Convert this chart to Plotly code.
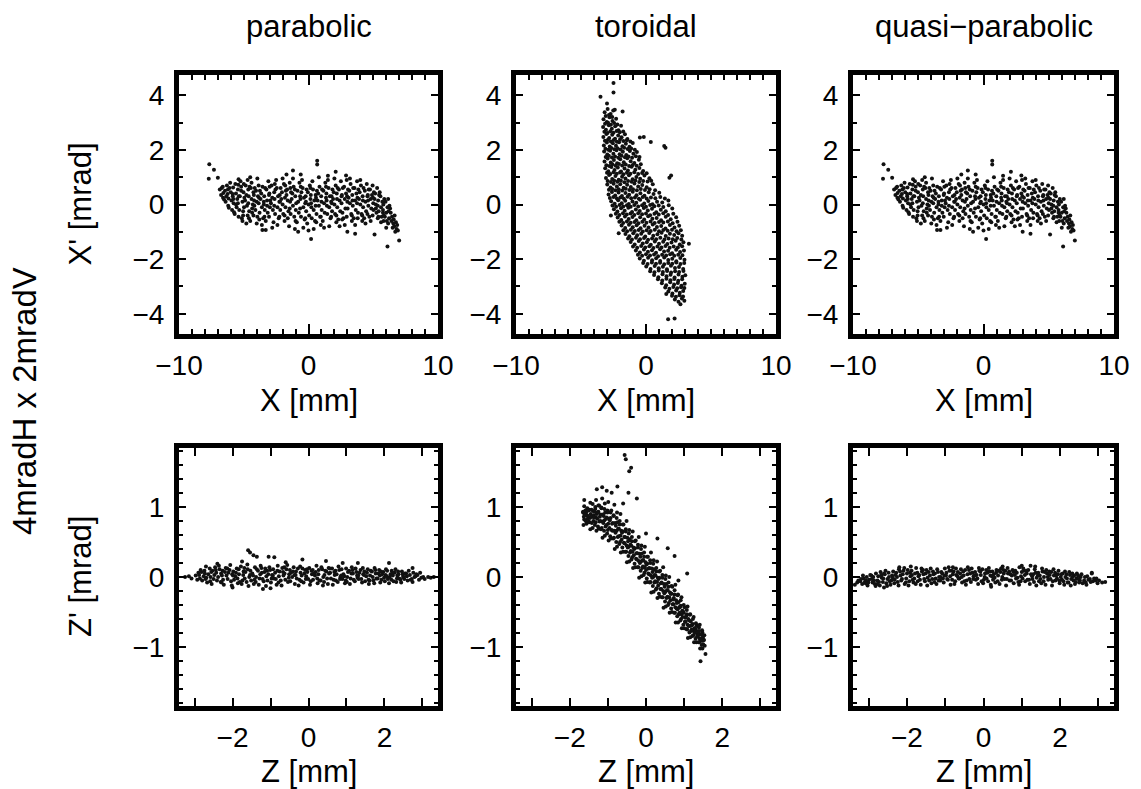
import plotly.graph_objects as go

# ---------------- data ----------------
panel_titles = ["parabolic", "toroidal", "quasi\u2212parabolic"]
top_x_title = "X [mm]"
top_y_title = "X' [mrad]"
bot_x_title = "Z [mm]"
bot_y_title = "Z' [mrad]"
side_label = "4mradH x 2mradV"

top_x_ticks = [-10, 0, 10]
top_y_ticks = [-4, -2, 0, 2, 4]
bot_x_ticks = [-2, 0, 2]
bot_y_ticks = [-1, 0, 1]

# horizontal phase space, parabolic: (X [mm], X' [mrad])
parabolic_xx = [
    (-7.66, 1.47), (-7.3, 1.27), (-7.7, 0.94), (-7.0, 0.98), (0.67, 1.6), (0.67, 1.46),
    (-1.2, 1.24), (2.1, 1.2), (2.9, 1.06), (6.1, -1.54), (7.0, -1.32), (6.9, -0.95),
    (0.2, -1.26), (-3.56, -0.93), (-3.3, -0.93), (3.0, -1.0), (3.6, -1.07), (5.1, -1.1),
    (-1.7, 1.1), (-4.5, 1.0), (-5.4, 0.92), (1.5, 1.05), (-0.6, 1.1),
    (-6.85, 0.55), (-6.75, 0.35), (-6.7, 0.6), (-6.6, 0.25),
    (-6.45, 0.5), (-6.4, 0.1), (-6.3, 0.7), (-6.35, 0.3), (-6.2, -0.05),
    (-6.05, 0.8), (-6.0, 0.45), (-5.95, 0.15), (-5.9, -0.2), (-6.1, 0.6), (-5.85, 0.3),
    (-5.65, 0.75), (-5.6, 0.4), (-5.55, -0.1), (-5.5, 0.2), (-5.7, -0.35), (-5.45, 0.55), (-5.6, 0.0),
    (-5.25, 0.85), (-5.2, 0.5), (-5.15, -0.5), (-5.1, 0.1), (-5.3, 0.3), (-5.05, -0.25), (-5.2, 0.65), (-5.1, -0.6),
    (-4.85, 0.7), (-4.8, 0.35), (-4.75, -0.05), (-4.7, -0.4), (-4.9, 0.15), (-4.65, 0.55), (-4.8, -0.7), (-4.7, 0.9),
    (-4.45, 0.6), (-4.4, 0.2), (-4.35, -0.3), (-4.3, 0.0), (-4.5, -0.6), (-4.25, 0.45), (-4.4, 0.8), (-4.35, -0.15),
    (-4.05, 0.5), (-4.0, 0.1), (-3.95, -0.45), (-3.9, 0.3), (-4.1, -0.2), (-3.85, 0.7), (-4.0, -0.7), (-3.95, 0.95),
    (-3.65, 0.4), (-3.6, -0.1), (-3.55, 0.65), (-3.5, -0.5), (-3.7, 0.2), (-3.45, 0.0), (-3.6, -0.75),
    (-3.25, 0.55), (-3.2, 0.15), (-3.15, -0.3), (-3.1, 0.85), (-3.3, -0.6), (-3.05, 0.35), (-3.2, -0.05),
    (-2.85, 0.7), (-2.8, 0.25), (-2.75, -0.2), (-2.7, -0.65), (-2.9, 0.05), (-2.65, 0.45), (-2.8, -0.85),
    (-2.45, 0.6), (-2.4, -0.1), (-2.35, 0.3), (-2.3, -0.5), (-2.5, 0.9), (-2.25, 0.1), (-2.4, -0.75),
    (-2.05, 0.45), (-2.0, 0.0), (-1.95, -0.35), (-1.9, 0.75), (-2.1, 0.2), (-1.85, -0.6), (-2.0, 0.95),
    (-1.65, 0.55), (-1.6, 0.15), (-1.55, -0.25), (-1.5, -0.8), (-1.7, 0.35), (-1.45, 0.8), (-1.6, -0.5),
    (-1.25, 0.4), (-1.2, -0.05), (-1.15, 0.65), (-1.1, -0.45), (-1.3, 0.2), (-1.05, -0.9), (-1.2, 0.95),
    (-0.85, 0.5), (-0.8, 0.1), (-0.75, -0.3), (-0.7, 0.8), (-0.9, -0.65), (-0.65, 0.3), (-0.8, -1.0),
    (-0.45, 0.6), (-0.4, -0.1), (-0.35, 0.25), (-0.3, -0.55), (-0.5, 0.9), (-0.25, 0.05), (-0.4, -0.85),
    (-0.05, 0.45), (0.0, 0.0), (0.05, -0.4), (0.1, 0.7), (-0.1, -0.7), (0.15, 0.2), (0.0, -0.95),
    (0.35, 0.55), (0.4, -0.2), (0.45, 0.15), (0.5, -0.6), (0.3, 0.85), (0.55, 0.35), (0.4, -0.9),
    (0.75, 0.4), (0.8, -0.05), (0.85, 0.65), (0.9, -0.45), (0.7, 0.15), (0.95, -0.75), (0.8, 1.0),
    (1.15, 0.5), (1.2, 0.05), (1.25, -0.3), (1.3, 0.8), (1.1, -0.6), (1.35, 0.25), (1.2, -0.85),
    (1.55, 0.6), (1.6, -0.1), (1.65, 0.3), (1.7, -0.5), (1.5, 0.9), (1.75, 0.1), (1.6, -0.8),
    (1.95, 0.45), (2.0, 0.0), (2.05, -0.35), (2.1, 0.7), (1.9, 0.2), (2.15, -0.65), (2.0, 0.95),
    (2.35, 0.55), (2.4, 0.15), (2.45, -0.25), (2.5, 0.85), (2.3, -0.55), (2.55, 0.3), (2.4, -0.8),
    (2.75, 0.65), (2.8, 0.2), (2.85, -0.15), (2.9, 0.4), (2.7, -0.5), (2.95, 0.9), (2.8, -0.75),
    (3.15, 0.5), (3.2, 0.05), (3.25, 0.75), (3.3, -0.35), (3.1, 0.25), (3.35, -0.6), (3.2, 0.95),
    (3.55, 0.6), (3.6, 0.15), (3.65, -0.2), (3.7, 0.4), (3.5, -0.5), (3.75, 0.85), (3.6, -0.75),
    (3.95, 0.45), (4.0, 0.0), (4.05, 0.7), (4.1, -0.35), (3.9, 0.2), (4.15, -0.6), (4.0, 0.9),
    (4.35, 0.5), (4.4, 0.1), (4.45, -0.25), (4.5, 0.75), (4.3, -0.5), (4.55, 0.3), (4.4, -0.7),
    (4.75, 0.55), (4.8, 0.2), (4.85, -0.15), (4.9, 0.35), (4.7, -0.45), (4.95, 0.7), (4.8, -0.6),
    (5.15, 0.4), (5.2, 0.0), (5.25, -0.3), (5.3, 0.6), (5.1, 0.2), (5.35, -0.5), (5.2, -0.15),
    (5.55, 0.3), (5.6, -0.1), (5.65, -0.45), (5.7, 0.1), (5.5, 0.45), (5.75, -0.3), (5.6, -0.65),
    (5.95, 0.1), (6.0, -0.3), (6.05, -0.6), (6.1, -0.1), (5.9, -0.45), (6.15, 0.2), (6.0, -0.85),
    (6.35, -0.3), (6.4, -0.6), (6.45, -0.45), (6.5, -0.85), (6.3, -0.15), (6.55, -0.7),
    (6.75, -0.65), (6.8, -0.9), (6.85, -0.75), (6.7, -1.0),
    (-6.58, 0.42), (-6.52, 0.18), (-6.62, 0.65),
    (-6.22, 0.55), (-6.18, 0.22), (-6.15, -0.12), (-6.25, 0.38),
    (-5.82, 0.62), (-5.78, 0.05), (-5.75, -0.28), (-5.85, 0.38), (-5.8, 0.2),
    (-5.42, 0.72), (-5.38, 0.3), (-5.35, -0.2), (-5.45, 0.05), (-5.4, -0.45),
    (-5.02, 0.45), (-4.98, -0.1), (-4.95, 0.25), (-5.05, -0.4), (-5.0, 0.75),
    (-4.62, 0.3), (-4.58, -0.25), (-4.55, 0.65), (-4.65, 0.05), (-4.6, -0.5),
    (-4.22, 0.35), (-4.18, -0.05), (-4.15, 0.6), (-4.25, -0.4), (-4.2, 0.15),
    (-3.82, 0.25), (-3.78, -0.3), (-3.75, 0.5), (-3.85, 0.05), (-3.8, -0.55),
    (-3.42, 0.3), (-3.38, -0.2), (-3.35, 0.6), (-3.45, 0.1), (-3.4, -0.45),
    (-3.02, 0.4), (-2.98, -0.1), (-2.95, 0.15), (-3.05, -0.45), (-3.0, 0.65),
    (-2.62, 0.2), (-2.58, -0.35), (-2.55, 0.55), (-2.65, -0.05), (-2.6, 0.75),
    (-2.22, 0.35), (-2.18, -0.2), (-2.15, 0.6), (-2.25, -0.45), (-2.2, 0.1),
    (-1.82, 0.25), (-1.78, -0.1), (-1.75, 0.5), (-1.85, -0.4), (-1.8, 0.7),
    (-1.42, 0.1), (-1.38, -0.35), (-1.35, 0.45), (-1.45, -0.15), (-1.4, 0.6),
    (-1.02, 0.3), (-0.98, -0.2), (-0.95, 0.05), (-1.05, 0.55), (-1.0, -0.6),
    (-0.62, 0.2), (-0.58, -0.45), (-0.55, 0.45), (-0.65, -0.15), (-0.6, 0.65),
    (-0.22, 0.3), (-0.18, -0.25), (-0.15, 0.55), (-0.25, -0.5), (-0.2, 0.1),
    (0.18, 0.35), (0.22, -0.1), (0.25, -0.5), (0.15, 0.6), (0.2, 0.05),
    (0.58, 0.25), (0.62, -0.35), (0.65, 0.5), (0.55, -0.05), (0.6, -0.65),
    (0.98, 0.3), (1.02, -0.2), (1.05, 0.55), (0.95, -0.45), (1.0, 0.1),
    (1.38, 0.4), (1.42, -0.05), (1.45, -0.35), (1.35, 0.65), (1.4, 0.15),
    (1.78, 0.3), (1.82, -0.25), (1.85, 0.55), (1.75, -0.45), (1.8, 0.05),
    (2.18, 0.4), (2.22, -0.1), (2.25, 0.6), (2.15, -0.4), (2.2, 0.2),
    (2.58, 0.35), (2.62, -0.3), (2.65, 0.6), (2.55, 0.05), (2.6, -0.55),
    (2.98, 0.3), (3.02, -0.15), (3.05, 0.55), (2.95, -0.45), (3.0, 0.1),
    (3.38, 0.35), (3.42, -0.05), (3.45, 0.6), (3.35, -0.4), (3.4, 0.15),
    (3.78, 0.25), (3.82, -0.3), (3.85, 0.55), (3.75, 0.05), (3.8, -0.5),
    (4.18, 0.3), (4.22, -0.1), (4.25, 0.6), (4.15, -0.4), (4.2, 0.15),
    (4.58, 0.35), (4.62, -0.05), (4.65, 0.55), (4.55, -0.35), (4.6, 0.15),
    (4.98, 0.25), (5.02, -0.2), (5.05, 0.45), (4.95, -0.4), (5.0, 0.05),
    (5.38, 0.15), (5.42, -0.25), (5.45, 0.35), (5.35, -0.05), (5.4, -0.45),
    (5.78, 0.0), (5.82, -0.4), (5.85, 0.2), (5.75, -0.2), (5.8, -0.6),
    (6.18, -0.25), (6.22, -0.5), (6.25, -0.05), (6.15, -0.7),
    (6.58, -0.55), (6.62, -0.8), (6.65, -0.4),
]

# horizontal phase space, toroidal: (X [mm], X' [mrad])
toroidal_xx = [
    (-3.5, 3.94), (-2.5, 4.45), (-2.5, 4.1), (-3.0, 3.7), (-1.8, 3.4), (-2.4, 3.47),
    (1.7, -4.2), (2.2, -4.17), (1.56, -3.28), (3.3, -1.44), (1.5, 2.08), (1.4, 2.14),
    (-0.17, 2.47), (-0.47, 2.45), (0.37, 2.29), (1.8, 0.98), (1.93, 1.06), (-2.7, -0.4),
    (-2.1, -1.05), (2.65, -3.65),
    (-3.18, 3.38), (-2.95, 3.5), (-2.72, 3.31), (-2.52, 3.44),
    (-3.27, 3.12), (-3.02, 3.02), (-2.81, 3.19), (-2.58, 3.06), (-2.3, 3.14),
    (-3.3, 2.84), (-3.08, 2.74), (-2.86, 2.9), (-2.63, 2.77), (-2.37, 2.86), (-2.12, 2.72), (-1.92, 2.88),
    (-3.28, 2.47), (-3.05, 2.58), (-2.83, 2.43), (-2.6, 2.55), (-2.38, 2.41), (-2.14, 2.53), (-1.88, 2.46),
    (-1.62, 2.57), (-1.43, 2.4),
    (-3.24, 2.16), (-3.01, 2.27), (-2.79, 2.12), (-2.55, 2.24), (-2.31, 2.15), (-2.07, 2.28), (-1.81, 2.13),
    (-1.55, 2.22), (-1.27, 2.11), (-1.02, 2.25),
    (-3.22, 1.94), (-2.98, 1.83), (-2.76, 1.97), (-2.51, 1.86), (-2.27, 1.99), (-2.03, 1.84), (-1.78, 1.93),
    (-1.52, 1.81), (-1.24, 1.96), (-0.97, 1.86), (-0.7, 1.92),
    (-3.19, 1.57), (-2.95, 1.68), (-2.71, 1.54), (-2.47, 1.63), (-2.22, 1.51), (-1.98, 1.66), (-1.71, 1.55),
    (-1.44, 1.69), (-1.18, 1.58), (-0.9, 1.52), (-0.55, 1.64),
    (-3.14, 1.33), (-2.9, 1.22), (-2.66, 1.37), (-2.42, 1.26), (-2.17, 1.35), (-1.92, 1.21), (-1.65, 1.32),
    (-1.39, 1.24), (-1.11, 1.38), (-0.82, 1.27), (-0.51, 1.34), (-0.22, 1.23),
    (-3.08, 0.97), (-2.84, 1.08), (-2.6, 0.93), (-2.35, 1.04), (-2.1, 0.91), (-1.84, 1.02), (-1.58, 0.95),
    (-1.31, 1.07), (-1.03, 0.92), (-0.74, 1.01), (-0.45, 0.94), (-0.12, 1.06), (0.26, 0.96),
    (-2.98, 0.73), (-2.73, 0.62), (-2.49, 0.76), (-2.24, 0.66), (-1.98, 0.74), (-1.72, 0.61), (-1.45, 0.72),
    (-1.17, 0.64), (-0.89, 0.77), (-0.6, 0.66), (-0.29, 0.71), (0.05, 0.63), (0.52, 0.74),
    (-2.88, 0.37), (-2.62, 0.46), (-2.37, 0.33), (-2.11, 0.44), (-1.85, 0.31), (-1.58, 0.42), (-1.3, 0.36),
    (-1.02, 0.47), (-0.73, 0.34), (-0.43, 0.41), (-0.12, 0.32), (0.21, 0.45), (0.58, 0.38), (1.02, 0.43),
    (-2.68, 0.12), (-2.41, 0.03), (-2.14, 0.16), (-1.87, 0.05), (-1.6, 0.14), (-1.32, 0.02), (-1.04, 0.11),
    (-0.75, 0.06), (-0.45, 0.17), (-0.14, 0.04), (0.18, 0.13), (0.5, 0.01), (0.85, 0.1), (1.25, 0.07), (1.72, 0.15),
    (-2.47, -0.17), (-2.2, -0.26), (-1.92, -0.14), (-1.64, -0.23), (-1.36, -0.12), (-1.07, -0.27), (-0.78, -0.18),
    (-0.48, -0.24), (-0.17, -0.13), (0.14, -0.22), (0.46, -0.16), (0.79, -0.28), (1.14, -0.19), (1.52, -0.25),
    (2.02, -0.15),
    (-2.18, -0.48), (-1.9, -0.57), (-1.62, -0.44), (-1.33, -0.53), (-1.04, -0.46), (-0.75, -0.58), (-0.45, -0.47),
    (-0.14, -0.55), (0.17, -0.43), (0.49, -0.52), (0.82, -0.49), (1.16, -0.58), (1.52, -0.45), (1.9, -0.54),
    (2.32, -0.47),
    (-1.88, -0.77), (-1.6, -0.86), (-1.31, -0.74), (-1.02, -0.83), (-0.72, -0.76), (-0.42, -0.87), (-0.11, -0.78),
    (0.2, -0.84), (0.52, -0.73), (0.84, -0.82), (1.17, -0.79), (1.5, -0.88), (1.84, -0.75), (2.19, -0.84),
    (2.55, -0.78),
    (-1.58, -1.08), (-1.28, -1.16), (-0.98, -1.05), (-0.68, -1.13), (-0.37, -1.07), (-0.06, -1.17), (0.25, -1.04),
    (0.56, -1.14), (0.88, -1.09), (1.2, -1.03), (1.52, -1.15), (1.84, -1.07), (2.17, -1.12), (2.5, -1.05),
    (2.78, -1.14),
    (-1.18, -1.37), (-0.87, -1.46), (-0.56, -1.34), (-0.25, -1.43), (0.06, -1.38), (0.37, -1.47), (0.68, -1.35),
    (1.0, -1.44), (1.32, -1.36), (1.64, -1.45), (1.96, -1.39), (2.28, -1.33), (2.6, -1.46), (2.88, -1.38),
    (-0.78, -1.68), (-0.47, -1.76), (-0.16, -1.65), (0.15, -1.73), (0.46, -1.67), (0.77, -1.77), (1.08, -1.64),
    (1.39, -1.72), (1.7, -1.69), (2.01, -1.78), (2.32, -1.66), (2.62, -1.74), (2.92, -1.68),
    (-0.48, -1.98), (-0.16, -2.06), (0.16, -1.95), (0.47, -2.04), (0.78, -1.97), (1.09, -2.07), (1.4, -1.94),
    (1.71, -2.03), (2.02, -1.99), (2.33, -2.08), (2.64, -1.96), (2.96, -2.02),
    (0.02, -2.27), (0.35, -2.36), (0.67, -2.25), (0.98, -2.33), (1.3, -2.28), (1.61, -2.37), (1.92, -2.24),
    (2.23, -2.32), (2.54, -2.29), (2.86, -2.36),
    (0.62, -2.58), (0.95, -2.66), (1.27, -2.55), (1.58, -2.63), (1.89, -2.57), (2.2, -2.67), (2.5, -2.56),
    (2.8, -2.64), (3.02, -2.59),
    (1.22, -2.88), (1.55, -2.96), (1.86, -2.85), (2.16, -2.93), (2.45, -2.87), (2.73, -2.97), (2.98, -2.9),
    (1.72, -3.18), (2.03, -3.26), (2.32, -3.15), (2.6, -3.23), (2.86, -3.17),
    (2.22, -3.48), (2.5, -3.56), (2.76, -3.44), (2.95, -3.52),
    (-3.1, 3.24), (-2.85, 3.28), (-2.6, 3.2),
    (-3.15, 2.96), (-2.92, 2.99), (-2.7, 2.92), (-2.45, 2.98), (-2.2, 2.93),
    (-3.2, 2.66), (-2.96, 2.62), (-2.74, 2.68), (-2.5, 2.63), (-2.26, 2.69), (-2.02, 2.64), (-1.75, 2.67),
    (-3.16, 2.33), (-2.93, 2.37), (-2.7, 2.31), (-2.48, 2.36), (-2.24, 2.3), (-2.0, 2.38), (-1.74, 2.32),
    (-1.48, 2.35), (-1.2, 2.31),
    (-3.12, 2.04), (-2.9, 2.0), (-2.67, 2.07), (-2.43, 2.02), (-2.19, 2.06), (-1.95, 2.01), (-1.68, 2.08),
    (-1.41, 2.03), (-1.14, 2.05), (-0.86, 2.0),
    (-3.1, 1.74), (-2.86, 1.78), (-2.62, 1.72), (-2.38, 1.76), (-2.13, 1.71), (-1.88, 1.78), (-1.62, 1.73),
    (-1.35, 1.76), (-1.07, 1.71), (-0.78, 1.77), (-0.5, 1.74),
    (-3.05, 1.44), (-2.82, 1.41), (-2.58, 1.47), (-2.33, 1.42), (-2.08, 1.48), (-1.83, 1.43), (-1.56, 1.46),
    (-1.3, 1.41), (-1.02, 1.45), (-0.72, 1.42), (-0.4, 1.47),
    (-3.0, 1.16), (-2.75, 1.12), (-2.5, 1.18), (-2.25, 1.13), (-2.0, 1.17), (-1.74, 1.11), (-1.47, 1.16),
    (-1.2, 1.13), (-0.9, 1.18), (-0.6, 1.12), (-0.3, 1.15), (0.05, 1.14),
    (-2.95, 0.86), (-2.7, 0.82), (-2.45, 0.88), (-2.2, 0.83), (-1.93, 0.87), (-1.66, 0.81), (-1.38, 0.86),
    (-1.1, 0.83), (-0.82, 0.88), (-0.52, 0.82), (-0.22, 0.86), (0.12, 0.84), (0.4, 0.87),
    (-2.85, 0.54), (-2.6, 0.57), (-2.35, 0.52), (-2.1, 0.56), (-1.83, 0.51), (-1.56, 0.58), (-1.28, 0.53),
    (-1.0, 0.56), (-0.7, 0.52), (-0.4, 0.57), (-0.08, 0.53), (0.28, 0.56), (0.7, 0.52),
    (-2.78, 0.24), (-2.5, 0.27), (-2.24, 0.22), (-1.97, 0.26), (-1.7, 0.21), (-1.42, 0.28), (-1.14, 0.23),
    (-0.85, 0.26), (-0.55, 0.21), (-0.25, 0.27), (0.05, 0.22), (0.38, 0.26), (0.72, 0.23), (1.1, 0.27), (1.45, 0.22),
    (-2.58, -0.04), (-2.3, -0.08), (-2.03, -0.02), (-1.75, -0.07), (-1.47, -0.03), (-1.18, -0.08), (-0.9, -0.02),
    (-0.6, -0.07), (-0.3, -0.03), (0.0, -0.08), (0.32, -0.02), (0.64, -0.06), (0.98, -0.04), (1.33, -0.09),
    (1.75, -0.03),
    (-2.32, -0.34), (-2.05, -0.38), (-1.77, -0.32), (-1.48, -0.37), (-1.19, -0.33), (-0.9, -0.38), (-0.6, -0.32),
    (-0.3, -0.36), (0.0, -0.33), (0.32, -0.39), (0.65, -0.34), (0.98, -0.37), (1.33, -0.32), (1.7, -0.38),
    (2.1, -0.34),
    (-2.05, -0.63), (-1.76, -0.68), (-1.47, -0.62), (-1.18, -0.67), (-0.88, -0.64), (-0.58, -0.69), (-0.28, -0.63),
    (0.03, -0.67), (0.35, -0.62), (0.67, -0.68), (1.0, -0.64), (1.33, -0.66), (1.68, -0.62), (2.05, -0.69),
    (2.42, -0.63),
    (-1.74, -0.94), (-1.45, -0.98), (-1.16, -0.92), (-0.86, -0.97), (-0.56, -0.93), (-0.25, -0.99), (0.05, -0.94),
    (0.36, -0.97), (0.68, -0.92), (1.0, -0.98), (1.33, -0.93), (1.67, -0.96), (2.0, -0.92), (2.35, -0.98),
    (2.68, -0.94),
    (-1.38, -1.24), (-1.08, -1.28), (-0.77, -1.22), (-0.46, -1.27), (-0.15, -1.23), (0.16, -1.29), (0.47, -1.24),
    (0.78, -1.27), (1.1, -1.22), (1.42, -1.28), (1.74, -1.24), (2.06, -1.27), (2.4, -1.23), (2.72, -1.28),
    (-1.0, -1.54), (-0.68, -1.58), (-0.37, -1.52), (-0.06, -1.57), (0.26, -1.53), (0.57, -1.59), (0.88, -1.54),
    (1.19, -1.57), (1.5, -1.52), (1.82, -1.58), (2.13, -1.54), (2.45, -1.57), (2.78, -1.53),
    (-0.62, -1.84), (-0.3, -1.88), (0.0, -1.82), (0.31, -1.87), (0.62, -1.83), (0.93, -1.89), (1.24, -1.84),
    (1.55, -1.87), (1.86, -1.82), (2.17, -1.88), (2.48, -1.84), (2.8, -1.86),
    (-0.22, -2.14), (0.12, -2.18), (0.45, -2.12), (0.77, -2.17), (1.08, -2.13), (1.4, -2.19), (1.71, -2.14),
    (2.02, -2.17), (2.33, -2.12), (2.65, -2.18), (2.94, -2.14),
    (0.32, -2.44), (0.65, -2.48), (0.98, -2.42), (1.3, -2.47), (1.62, -2.43), (1.93, -2.49), (2.24, -2.44),
    (2.55, -2.47), (2.88, -2.43),
    (0.92, -2.74), (1.25, -2.78), (1.57, -2.72), (1.88, -2.77), (2.18, -2.73), (2.48, -2.79), (2.78, -2.74),
    (1.48, -3.04), (1.8, -3.08), (2.1, -3.02), (2.4, -3.07), (2.7, -3.03), (2.95, -3.06),
    (2.0, -3.34), (2.3, -3.38), (2.58, -3.32), (2.85, -3.37),
]

# quasi-parabolic horizontal phase space reads the same as the parabolic one
quasi_parabolic_xx = list(parabolic_xx)

# vertical phase space, parabolic: (Z [mm], Z' [mrad])
parabolic_zz = [
    (-1.59, 0.38), (-1.54, 0.35), (-1.45, 0.31), (-1.36, 0.29), (-1.05, 0.29), (-0.9, 0.28),
    (-0.16, 0.25), (0.46, 0.23), (2.12, 0.2), (2.74, 0.13), (-2.0, -0.15), (-1.2, -0.17),
    (1.3, 0.2), (-2.4, 0.19), (-1.75, 0.22), (-0.6, 0.21), (0.9, 0.2), (-2.7, 0.15), (-1.0, -0.16),
    (-3.25, 0.0), (-3.15, 0.01), (-3.08, -0.02), (3.15, 0.0), (3.22, -0.01), (3.3, 0.0),
    (-2.97, 0.02), (-2.93, -0.04), (-2.9, 0.06),
    (-2.82, 0.07), (-2.8, -0.05), (-2.76, 0.01), (-2.84, 0.1),
    (-2.67, -0.08), (-2.64, 0.04), (-2.6, 0.12), (-2.69, -0.01),
    (-2.53, 0.09), (-2.5, -0.03), (-2.46, 0.14), (-2.55, -0.1), (-2.48, 0.03),
    (-2.38, 0.0), (-2.34, 0.11), (-2.31, -0.07), (-2.36, 0.16), (-2.3, 0.05),
    (-2.23, -0.11), (-2.2, 0.07), (-2.16, 0.02), (-2.18, 0.13), (-2.25, -0.04),
    (-2.08, 0.1), (-2.04, -0.06), (-2.01, 0.04), (-2.06, 0.17), (-2.02, -0.12),
    (-1.93, 0.01), (-1.89, 0.12), (-1.86, -0.09), (-1.91, 0.06), (-1.87, -0.02),
    (-1.78, 0.15), (-1.74, -0.05), (-1.71, 0.08), (-1.76, -0.1), (-1.72, 0.03),
    (-1.63, -0.07), (-1.6, 0.11), (-1.56, 0.0), (-1.61, 0.18), (-1.58, -0.13),
    (-1.48, 0.05), (-1.44, -0.1), (-1.41, 0.14), (-1.46, 0.02), (-1.42, -0.04),
    (-1.33, 0.09), (-1.29, -0.02), (-1.26, 0.16), (-1.31, -0.11), (-1.27, 0.04),
    (-1.18, -0.06), (-1.14, 0.12), (-1.11, 0.01), (-1.16, 0.07), (-1.12, -0.13),
    (-1.03, 0.14), (-0.99, -0.08), (-0.96, 0.03), (-1.01, 0.1), (-0.97, -0.02),
    (-0.88, 0.06), (-0.84, -0.11), (-0.81, 0.16), (-0.86, -0.03), (-0.82, 0.09),
    (-0.73, -0.05), (-0.69, 0.13), (-0.66, 0.02), (-0.71, -0.12), (-0.67, 0.07),
    (-0.58, 0.11), (-0.54, -0.07), (-0.51, 0.04), (-0.56, 0.17), (-0.52, -0.01),
    (-0.43, 0.0), (-0.39, 0.14), (-0.36, -0.1), (-0.41, 0.08), (-0.37, 0.03),
    (-0.28, 0.12), (-0.24, -0.04), (-0.21, 0.06), (-0.26, -0.12), (-0.22, 0.15),
    (-0.13, -0.08), (-0.09, 0.1), (-0.06, 0.01), (-0.11, 0.05), (-0.07, -0.03),
    (0.02, 0.13), (0.06, -0.06), (0.09, 0.04), (0.04, -0.11), (0.08, 0.09),
    (0.17, 0.02), (0.21, 0.16), (0.24, -0.09), (0.19, 0.07), (0.23, -0.02),
    (0.32, -0.05), (0.36, 0.11), (0.39, 0.0), (0.34, 0.14), (0.38, -0.12),
    (0.47, 0.08), (0.51, -0.1), (0.54, 0.05), (0.49, -0.02), (0.53, 0.13),
    (0.62, 0.12), (0.66, -0.04), (0.69, 0.03), (0.64, -0.11), (0.68, 0.07),
    (0.77, -0.07), (0.81, 0.1), (0.84, 0.0), (0.79, 0.15), (0.83, -0.03),
    (0.92, 0.04), (0.96, -0.09), (0.99, 0.12), (0.94, 0.01), (0.98, -0.05),
    (1.07, 0.09), (1.11, -0.02), (1.14, 0.14), (1.09, -0.1), (1.13, 0.05),
    (1.22, -0.06), (1.26, 0.07), (1.29, -0.01), (1.24, 0.12), (1.28, 0.02),
    (1.37, 0.1), (1.41, -0.08), (1.44, 0.04), (1.39, -0.03), (1.43, 0.13),
    (1.52, 0.01), (1.56, 0.11), (1.59, -0.1), (1.54, 0.06), (1.58, -0.04),
    (1.67, 0.08), (1.71, -0.05), (1.74, 0.13), (1.69, 0.0), (1.73, -0.09),
    (1.82, -0.02), (1.86, 0.1), (1.89, -0.08), (1.84, 0.05), (1.88, 0.02),
    (1.97, 0.07), (2.01, -0.06), (2.04, 0.11), (1.99, -0.01), (2.03, 0.03),
    (2.12, -0.09), (2.16, 0.04), (2.19, 0.09), (2.14, 0.0), (2.18, -0.04),
    (2.27, 0.06), (2.31, -0.07), (2.34, 0.02), (2.29, 0.11), (2.33, -0.02),
    (2.42, -0.04), (2.46, 0.08), (2.49, 0.0), (2.44, -0.08), (2.48, 0.04),
    (2.57, 0.05), (2.61, -0.05), (2.64, 0.09), (2.59, 0.01),
    (2.72, -0.03), (2.76, 0.06), (2.79, 0.0), (2.74, -0.07),
    (2.87, 0.03), (2.91, -0.04), (2.94, 0.06),
    (3.02, 0.0), (3.06, -0.03),
    (-2.88, 0.03), (-2.86, -0.02),
    (-2.73, 0.05), (-2.71, -0.03), (-2.74, 0.09),
    (-2.58, 0.0), (-2.56, 0.07), (-2.59, -0.06),
    (-2.43, 0.06), (-2.41, -0.05), (-2.44, 0.1),
    (-2.28, 0.02), (-2.26, 0.09), (-2.29, -0.08),
    (-2.13, -0.03), (-2.11, 0.06), (-2.14, 0.12),
    (-1.98, 0.08), (-1.96, -0.04), (-1.99, 0.02),
    (-1.83, 0.04), (-1.81, -0.07), (-1.84, 0.11),
    (-1.68, -0.02), (-1.66, 0.07), (-1.69, 0.13),
    (-1.53, 0.09), (-1.51, -0.05), (-1.54, 0.03),
    (-1.38, 0.0), (-1.36, 0.11), (-1.39, -0.07),
    (-1.23, 0.06), (-1.21, -0.03), (-1.24, 0.13),
    (-1.08, -0.05), (-1.06, 0.04), (-1.09, 0.09),
    (-0.93, 0.11), (-0.91, -0.02), (-0.94, 0.02),
    (-0.78, 0.01), (-0.76, 0.08), (-0.79, -0.08),
    (-0.63, 0.05), (-0.61, -0.04), (-0.64, 0.14),
    (-0.48, -0.06), (-0.46, 0.06), (-0.49, 0.1),
    (-0.33, 0.08), (-0.31, -0.02), (-0.34, 0.03),
    (-0.18, 0.02), (-0.16, 0.12), (-0.19, -0.06),
    (-0.03, 0.07), (-0.01, -0.03), (-0.04, 0.11),
    (0.12, -0.04), (0.14, 0.05), (0.11, 0.1),
    (0.27, 0.1), (0.29, -0.05), (0.26, 0.04),
    (0.42, 0.03), (0.44, 0.09), (0.41, -0.07),
    (0.57, 0.06), (0.59, -0.02), (0.56, 0.12),
    (0.72, -0.05), (0.74, 0.04), (0.71, 0.09),
    (0.87, 0.11), (0.89, -0.03), (0.86, 0.02),
    (1.02, 0.0), (1.04, 0.07), (1.01, -0.07),
    (1.17, 0.05), (1.19, -0.04), (1.16, 0.1),
    (1.32, -0.03), (1.34, 0.06), (1.31, 0.02),
    (1.47, 0.08), (1.49, -0.06), (1.46, 0.03),
    (1.62, 0.02), (1.64, 0.09), (1.61, -0.05),
    (1.77, 0.05), (1.79, -0.02), (1.76, 0.1),
    (1.92, -0.04), (1.94, 0.04), (1.91, 0.08),
    (2.07, 0.09), (2.09, -0.03), (2.06, 0.01),
    (2.22, 0.02), (2.24, -0.06), (2.21, 0.06),
    (2.37, 0.04), (2.39, -0.02), (2.36, 0.08),
    (2.52, -0.03), (2.54, 0.05), (2.51, 0.0),
    (2.67, 0.03), (2.69, -0.04),
    (2.82, 0.01), (2.84, 0.04),
    (2.97, -0.01),
]

# vertical phase space, toroidal: (Z [mm], Z' [mrad])
toroidal_zz = [
    (-0.56, 1.74), (-0.53, 1.68), (-0.44, 1.51), (-0.39, 1.56), (-0.75, 1.29), (-1.29, 1.25),
    (-1.03, 1.23), (-0.46, 1.2), (-0.24, 1.12), (1.43, -1.2), (1.56, -1.1), (1.08, 0.05),
    (0.57, 0.41), (0.75, 0.3), (0.0, 0.62), (0.3, 0.55), (0.85, -0.05), (-1.15, 1.28),
    (-0.9, 1.2), (-0.6, 1.05), (-1.65, 0.92), (-1.62, 1.1),
    (-1.64, 0.74), (-1.62, 0.82), (-1.63, 0.86), (-1.61, 0.89), (-1.65, 0.93), (-1.62, 1.01),
    (-1.56, 0.76), (-1.53, 0.83), (-1.55, 0.88), (-1.57, 0.92), (-1.54, 0.98),
    (-1.46, 0.68), (-1.49, 0.78), (-1.47, 0.84), (-1.45, 0.9), (-1.48, 0.96), (-1.46, 1.06),
    (-1.4, 0.7), (-1.38, 0.8), (-1.41, 0.86), (-1.37, 0.88), (-1.39, 0.94), (-1.4, 1.04),
    (-1.3, 0.66), (-1.32, 0.78), (-1.31, 0.85), (-1.29, 0.9), (-1.33, 0.97), (-1.31, 1.1),
    (-1.24, 0.69), (-1.22, 0.79), (-1.21, 0.86), (-1.25, 0.93), (-1.23, 1.02),
    (-1.14, 0.56), (-1.16, 0.7), (-1.15, 0.79), (-1.13, 0.89), (-1.17, 0.98), (-1.15, 1.12),
    (-1.08, 0.59), (-1.06, 0.72), (-1.09, 0.81), (-1.05, 0.83), (-1.07, 0.92), (-1.08, 1.05),
    (-0.98, 0.52), (-1.0, 0.67), (-0.99, 0.76), (-0.97, 0.83), (-1.01, 0.92), (-0.99, 1.07),
    (-0.92, 0.55), (-0.9, 0.67), (-0.89, 0.76), (-0.93, 0.84), (-0.91, 0.95),
    (-0.82, 0.4), (-0.84, 0.56), (-0.83, 0.66), (-0.81, 0.77), (-0.85, 0.87), (-0.83, 1.03),
    (-0.76, 0.43), (-0.74, 0.57), (-0.77, 0.66), (-0.73, 0.69), (-0.75, 0.78), (-0.76, 0.92),
    (-0.66, 0.35), (-0.68, 0.5), (-0.67, 0.59), (-0.65, 0.66), (-0.69, 0.75), (-0.67, 0.9),
    (-0.6, 0.36), (-0.58, 0.49), (-0.57, 0.57), (-0.61, 0.65), (-0.59, 0.75),
    (-0.5, 0.21), (-0.52, 0.36), (-0.51, 0.45), (-0.49, 0.56), (-0.53, 0.65), (-0.51, 0.8),
    (-0.44, 0.22), (-0.42, 0.35), (-0.45, 0.43), (-0.41, 0.46), (-0.43, 0.54), (-0.44, 0.67),
    (-0.34, 0.13), (-0.36, 0.28), (-0.35, 0.36), (-0.33, 0.42), (-0.37, 0.51), (-0.35, 0.65),
    (-0.28, 0.14), (-0.26, 0.26), (-0.25, 0.34), (-0.29, 0.41), (-0.27, 0.52),
    (-0.18, -0.01), (-0.2, 0.14), (-0.19, 0.23), (-0.17, 0.33), (-0.21, 0.42), (-0.19, 0.57),
    (-0.12, 0.01), (-0.1, 0.13), (-0.13, 0.22), (-0.09, 0.24), (-0.11, 0.33), (-0.12, 0.45),
    (-0.02, -0.08), (-0.04, 0.06), (-0.03, 0.14), (-0.01, 0.21), (-0.05, 0.29), (-0.03, 0.43),
    (0.04, -0.07), (0.06, 0.05), (0.07, 0.12), (0.03, 0.19), (0.05, 0.29),
    (0.14, -0.22), (0.12, -0.07), (0.13, 0.02), (0.15, 0.12), (0.11, 0.2), (0.13, 0.35),
    (0.2, -0.21), (0.22, -0.08), (0.19, 0.0), (0.23, 0.03), (0.21, 0.11), (0.2, 0.24),
    (0.3, -0.3), (0.28, -0.16), (0.29, -0.07), (0.31, -0.01), (0.27, 0.08), (0.29, 0.22),
    (0.36, -0.28), (0.38, -0.17), (0.39, -0.09), (0.35, -0.01), (0.37, 0.09),
    (0.46, -0.44), (0.44, -0.29), (0.45, -0.2), (0.47, -0.1), (0.43, -0.01), (0.45, 0.14),
    (0.52, -0.42), (0.54, -0.3), (0.51, -0.21), (0.55, -0.19), (0.53, -0.1), (0.52, 0.02),
    (0.62, -0.51), (0.6, -0.37), (0.61, -0.29), (0.63, -0.22), (0.59, -0.14), (0.61, 0.0),
    (0.68, -0.5), (0.7, -0.39), (0.71, -0.32), (0.67, -0.24), (0.69, -0.14),
    (0.78, -0.65), (0.76, -0.51), (0.77, -0.43), (0.79, -0.33), (0.75, -0.25), (0.77, -0.11),
    (0.84, -0.65), (0.86, -0.53), (0.83, -0.46), (0.87, -0.43), (0.85, -0.36), (0.84, -0.25),
    (0.94, -0.73), (0.92, -0.6), (0.93, -0.53), (0.95, -0.48), (0.91, -0.41), (0.93, -0.29),
    (1.0, -0.73), (1.02, -0.64), (1.03, -0.58), (0.99, -0.51), (1.01, -0.43),
    (1.1, -0.87), (1.08, -0.75), (1.09, -0.68), (1.11, -0.6), (1.07, -0.53), (1.09, -0.42),
    (1.16, -0.86), (1.18, -0.77), (1.15, -0.7), (1.19, -0.69), (1.17, -0.63), (1.16, -0.53),
    (1.26, -0.93), (1.24, -0.83), (1.25, -0.77), (1.27, -0.73), (1.23, -0.67), (1.25, -0.57),
    (1.32, -0.93), (1.34, -0.85), (1.35, -0.81), (1.31, -0.76), (1.33, -0.69),
    (1.42, -1.02), (1.4, -0.93), (1.41, -0.88), (1.43, -0.82), (1.39, -0.77), (1.41, -0.68),
    (1.48, -1.02), (1.5, -0.96), (1.47, -0.91), (1.51, -0.9), (1.49, -0.86), (1.48, -0.79),
    (-1.58, 0.8), (-1.6, 0.88), (-1.59, 0.95),
    (-1.5, 0.79), (-1.52, 0.87), (-1.51, 0.95),
    (-1.42, 0.77), (-1.44, 0.86), (-1.43, 0.96),
    (-1.34, 0.74), (-1.36, 0.85), (-1.35, 0.93), (-1.33, 1.0),
    (-1.26, 0.72), (-1.28, 0.83), (-1.27, 0.92), (-1.25, 1.02),
    (-1.18, 0.68), (-1.2, 0.8), (-1.19, 0.89), (-1.17, 0.99),
    (-1.1, 0.66), (-1.12, 0.77), (-1.11, 0.87), (-1.09, 0.97),
    (-1.02, 0.62), (-1.04, 0.74), (-1.03, 0.85), (-1.01, 0.95),
    (-0.94, 0.58), (-0.96, 0.7), (-0.95, 0.81), (-0.93, 0.92),
    (-0.86, 0.55), (-0.88, 0.66), (-0.87, 0.77), (-0.85, 0.88),
    (-0.78, 0.5), (-0.8, 0.63), (-0.79, 0.73), (-0.77, 0.84),
    (-0.7, 0.47), (-0.72, 0.58), (-0.71, 0.69), (-0.69, 0.8),
    (-0.62, 0.42), (-0.64, 0.53), (-0.63, 0.63), (-0.61, 0.75),
    (-0.54, 0.36), (-0.56, 0.48), (-0.55, 0.57), (-0.53, 0.68),
    (-0.46, 0.3), (-0.48, 0.42), (-0.47, 0.51), (-0.45, 0.62),
    (-0.38, 0.25), (-0.4, 0.37), (-0.39, 0.45), (-0.37, 0.57),
    (-0.3, 0.19), (-0.32, 0.31), (-0.31, 0.4), (-0.29, 0.51),
    (-0.22, 0.14), (-0.24, 0.25), (-0.23, 0.34), (-0.21, 0.46),
    (-0.14, 0.09), (-0.16, 0.2), (-0.15, 0.29), (-0.13, 0.4),
    (-0.06, 0.03), (-0.08, 0.15), (-0.07, 0.24), (-0.05, 0.35),
    (0.02, -0.02), (0.0, 0.1), (0.01, 0.18), (0.03, 0.29),
    (0.1, -0.08), (0.08, 0.04), (0.09, 0.13), (0.11, 0.24),
    (0.18, -0.13), (0.16, -0.01), (0.17, 0.07), (0.19, 0.19),
    (0.26, -0.18), (0.24, -0.06), (0.25, 0.02), (0.27, 0.13),
    (0.34, -0.24), (0.32, -0.12), (0.33, -0.03), (0.35, 0.08),
    (0.42, -0.29), (0.4, -0.17), (0.41, -0.08), (0.43, 0.03),
    (0.5, -0.35), (0.48, -0.23), (0.49, -0.14), (0.51, -0.03),
    (0.58, -0.4), (0.56, -0.28), (0.57, -0.19), (0.59, -0.08),
    (0.66, -0.45), (0.64, -0.33), (0.65, -0.24), (0.67, -0.13),
    (0.74, -0.51), (0.72, -0.39), (0.73, -0.3), (0.75, -0.19),
    (0.82, -0.56), (0.8, -0.45), (0.81, -0.37), (0.83, -0.26),
    (0.9, -0.62), (0.88, -0.51), (0.89, -0.43), (0.91, -0.33),
    (0.98, -0.68), (0.96, -0.57), (0.97, -0.49), (0.99, -0.4),
    (1.06, -0.74), (1.04, -0.64), (1.05, -0.56), (1.07, -0.47),
    (1.14, -0.79), (1.12, -0.7), (1.13, -0.62), (1.15, -0.54),
    (1.22, -0.84), (1.2, -0.75), (1.21, -0.68), (1.23, -0.6),
    (1.3, -0.88), (1.28, -0.8), (1.29, -0.73), (1.31, -0.66),
    (1.38, -0.93), (1.36, -0.85), (1.37, -0.78), (1.39, -0.72),
    (1.46, -0.97), (1.44, -0.89), (1.45, -0.82), (1.47, -0.76),
    (1.54, -0.98), (1.52, -0.9), (1.53, -0.83),
]

# vertical phase space, quasi-parabolic: (Z [mm], Z' [mrad])
quasi_parabolic_zz = [
    (-1.9, 0.15), (1.0, 0.16), (-0.8, 0.14), (0.5, 0.15), (-2.2, 0.14), (1.35, 0.15),
    (-2.6, -0.15), (0.2, -0.14), (2.83, 0.06),
    (-3.36, -0.11), (-3.3, -0.08), (-3.27, -0.05),
    (-3.17, -0.1), (-3.13, -0.02), (-3.1, -0.07), (-3.15, 0.02),
    (-3.03, -0.12), (-2.99, -0.04), (-2.96, 0.03), (-3.01, -0.08),
    (-2.88, 0.0), (-2.84, -0.1), (-2.81, 0.05), (-2.86, -0.05), (-2.82, -0.13),
    (-2.73, -0.07), (-2.69, 0.07), (-2.66, -0.01), (-2.71, -0.12), (-2.67, 0.03),
    (-2.58, 0.04), (-2.54, -0.09), (-2.51, -0.03), (-2.56, 0.09), (-2.52, -0.13),
    (-2.43, -0.11), (-2.39, 0.02), (-2.36, 0.08), (-2.41, -0.05), (-2.37, -0.01),
    (-2.28, 0.06), (-2.24, -0.07), (-2.21, 0.11), (-2.26, 0.0), (-2.22, -0.12),
    (-2.13, -0.03), (-2.09, 0.09), (-2.06, -0.1), (-2.11, 0.04), (-2.07, 0.13),
    (-1.98, 0.1), (-1.94, -0.06), (-1.91, 0.01), (-1.96, -0.12), (-1.92, 0.06),
    (-1.83, -0.08), (-1.79, 0.05), (-1.76, 0.13), (-1.81, -0.02), (-1.77, -0.1),
    (-1.68, 0.03), (-1.64, -0.11), (-1.61, 0.08), (-1.66, -0.04), (-1.62, 0.12),
    (-1.53, -0.06), (-1.49, 0.1), (-1.46, -0.01), (-1.51, 0.05), (-1.47, -0.12),
    (-1.38, 0.12), (-1.34, -0.03), (-1.31, 0.04), (-1.36, -0.09), (-1.32, 0.08),
    (-1.23, -0.1), (-1.19, 0.07), (-1.16, 0.0), (-1.21, 0.11), (-1.17, -0.05),
    (-1.08, 0.05), (-1.04, -0.08), (-1.01, 0.12), (-1.06, -0.02), (-1.02, 0.02),
    (-0.93, -0.04), (-0.89, 0.09), (-0.86, -0.11), (-0.91, 0.14), (-0.87, 0.01),
    (-0.78, 0.08), (-0.74, -0.06), (-0.71, 0.03), (-0.76, -0.1), (-0.72, 0.12),
    (-0.63, -0.02), (-0.59, 0.11), (-0.56, -0.08), (-0.61, 0.05), (-0.57, 0.0),
    (-0.48, 0.1), (-0.44, -0.05), (-0.41, 0.14), (-0.46, -0.11), (-0.42, 0.04),
    (-0.33, -0.07), (-0.29, 0.06), (-0.26, 0.01), (-0.31, 0.12), (-0.27, -0.03),
    (-0.18, 0.03), (-0.14, -0.1), (-0.11, 0.09), (-0.16, -0.02), (-0.12, 0.13),
    (-0.03, 0.11), (0.01, -0.04), (0.04, 0.05), (-0.01, -0.09), (0.03, 0.0),
    (0.12, -0.06), (0.16, 0.08), (0.19, -0.11), (0.14, 0.13), (0.18, 0.02),
    (0.27, 0.04), (0.31, -0.08), (0.34, 0.1), (0.29, -0.01), (0.33, 0.06),
    (0.42, -0.1), (0.46, 0.12), (0.49, 0.0), (0.44, 0.07), (0.48, -0.04),
    (0.57, 0.09), (0.61, -0.03), (0.64, 0.05), (0.59, -0.12), (0.63, 0.13),
    (0.72, -0.05), (0.76, 0.1), (0.79, -0.09), (0.74, 0.02), (0.78, 0.07),
    (0.87, 0.06), (0.91, -0.07), (0.94, 0.14), (0.89, -0.01), (0.93, -0.11),
    (1.02, -0.02), (1.06, 0.09), (1.09, -0.06), (1.04, 0.12), (1.08, 0.03),
    (1.17, 0.1), (1.21, -0.1), (1.24, 0.04), (1.19, -0.04), (1.23, 0.16),
    (1.32, -0.07), (1.36, 0.06), (1.39, -0.01), (1.34, 0.11), (1.38, -0.12),
    (1.47, 0.02), (1.51, -0.09), (1.54, 0.08), (1.49, -0.03), (1.53, 0.12),
    (1.62, -0.11), (1.66, 0.05), (1.69, -0.04), (1.64, 0.1), (1.68, 0.0),
    (1.77, 0.07), (1.81, -0.06), (1.84, 0.02), (1.79, -0.12), (1.83, 0.11),
    (1.92, -0.02), (1.96, 0.09), (1.99, -0.09), (1.94, 0.04), (1.98, -0.05),
    (2.07, 0.05), (2.11, -0.11), (2.14, 0.0), (2.09, -0.06), (2.13, 0.08),
    (2.22, -0.08), (2.26, 0.03), (2.29, -0.03), (2.24, 0.07), (2.28, -0.12),
    (2.37, 0.02), (2.41, -0.07), (2.44, 0.05), (2.39, -0.1), (2.43, -0.02),
    (2.52, -0.05), (2.56, 0.04), (2.59, -0.09), (2.54, 0.0),
    (2.67, -0.08), (2.71, 0.01), (2.74, -0.04), (2.69, -0.11),
    (2.83, 0.05), (2.86, -0.06), (2.89, -0.02),
    (2.98, -0.09), (3.02, -0.05), (3.1, -0.08), (3.18, -0.07),
    (-3.22, -0.06), (-3.2, -0.03),
    (-3.07, -0.05), (-3.05, 0.0), (-3.08, -0.09),
    (-2.92, -0.03), (-2.9, -0.08), (-2.93, 0.02),
    (-2.77, -0.05), (-2.75, 0.01), (-2.78, -0.1),
    (-2.62, -0.02), (-2.6, 0.05), (-2.63, -0.07),
    (-2.47, 0.0), (-2.45, -0.06), (-2.48, 0.06),
    (-2.32, -0.04), (-2.3, 0.03), (-2.33, -0.09),
    (-2.17, 0.02), (-2.15, -0.05), (-2.18, 0.08),
    (-2.02, -0.02), (-2.0, 0.05), (-2.03, -0.08),
    (-1.87, 0.03), (-1.85, -0.04), (-1.88, 0.09),
    (-1.72, -0.06), (-1.7, 0.01), (-1.73, 0.06),
    (-1.57, 0.04), (-1.55, -0.03), (-1.58, 0.1),
    (-1.42, -0.05), (-1.4, 0.02), (-1.43, 0.07),
    (-1.27, 0.05), (-1.25, -0.02), (-1.28, -0.07),
    (-1.12, 0.0), (-1.1, 0.07), (-1.13, -0.05),
    (-0.97, 0.06), (-0.95, -0.03), (-0.98, 0.02),
    (-0.82, -0.04), (-0.8, 0.04), (-0.83, 0.09),
    (-0.67, 0.07), (-0.65, -0.02), (-0.68, 0.01),
    (-0.52, 0.02), (-0.5, -0.06), (-0.53, 0.08),
    (-0.37, -0.03), (-0.35, 0.05), (-0.38, 0.1),
    (-0.22, 0.07), (-0.2, -0.04), (-0.23, 0.02),
    (-0.07, 0.03), (-0.05, -0.06), (-0.08, 0.08),
    (0.08, -0.02), (0.1, 0.06), (0.07, 0.1),
    (0.23, 0.08), (0.25, -0.04), (0.22, 0.01),
    (0.38, 0.02), (0.4, 0.09), (0.37, -0.06),
    (0.53, 0.05), (0.55, -0.03), (0.52, 0.1),
    (0.68, -0.05), (0.7, 0.04), (0.67, 0.08),
    (0.83, 0.09), (0.85, -0.02), (0.82, 0.03),
    (0.98, 0.01), (1.0, 0.07), (0.97, -0.06),
    (1.13, 0.05), (1.15, -0.04), (1.12, 0.09),
    (1.28, -0.03), (1.3, 0.04), (1.27, 0.01),
    (1.43, 0.06), (1.45, -0.06), (1.42, 0.02),
    (1.58, 0.0), (1.6, 0.07), (1.57, -0.06),
    (1.73, 0.03), (1.75, -0.03), (1.72, 0.08),
    (1.88, -0.05), (1.9, 0.02), (1.87, 0.06),
    (2.03, 0.04), (2.05, -0.04), (2.02, 0.0),
    (2.18, -0.02), (2.2, -0.08), (2.17, 0.04),
    (2.33, 0.0), (2.35, -0.05), (2.32, 0.05),
    (2.48, -0.03), (2.5, -0.08), (2.47, 0.02),
    (2.63, -0.05), (2.65, 0.0),
    (2.78, -0.03), (2.8, -0.07),
    (2.93, -0.05), (2.95, -0.02),
]

# ---------------- figure ----------------
W, H = 1141, 789
FONT = "Liberation Sans, Arial, Helvetica, sans-serif"
TICK_SIZE = 28
TITLE_SIZE = 31
FRAME = 5

col_px = [(179, 438), (516, 776), (853, 1114)]     # plot area left/right (px)
row_px = [(75, 334), (448, 706)]                   # plot area top/bottom (px)

panels = [
    (parabolic_xx, 0, 0), (toroidal_xx, 0, 1), (quasi_parabolic_xx, 0, 2),
    (parabolic_zz, 1, 0), (toroidal_zz, 1, 1), (quasi_parabolic_zz, 1, 2),
]

fig = go.Figure()
layout = dict(
    width=W, height=H, autosize=False,
    margin=dict(l=0, r=0, t=0, b=0, pad=0),
    paper_bgcolor="white", plot_bgcolor="white",
    showlegend=False,
    font=dict(family=FONT, size=TICK_SIZE, color="black"),
)

for i, (pts, r, c) in enumerate(panels, start=1):
    xs = [p[0] for p in pts]
    ys = [p[1] for p in pts]
    fig.add_trace(go.Scatter(
        x=xs, y=ys, mode="markers", xaxis=f"x{i}", yaxis=f"y{i}",
        marker=dict(size=4, color="#111111", line=dict(width=0)),
        hoverinfo="skip",
    ))
    x0, x1 = col_px[c]
    y0, y1 = row_px[r]
    common = dict(
        showline=True, linewidth=FRAME, linecolor="black", mirror="allticks",
        ticks="inside", tickwidth=1.5, tickcolor="black",
        showgrid=False, zeroline=False, automargin=False,
        tickfont=dict(family=FONT, size=TICK_SIZE, color="black"),
        fixedrange=True,
    )
    if r == 0:
        xa = dict(common, range=[-10, 10], tickvals=top_x_ticks, ticklen=10,
                  minor=dict(dtick=1, tick0=0, ticks="inside", ticklen=5, tickwidth=1.5,
                             tickcolor="black", showgrid=False))
        ya = dict(common, range=[-4.74, 4.74], tickvals=top_y_ticks, ticklen=7,
                  minor=dict(dtick=1, tick0=0, ticks="inside", ticklen=4, tickwidth=1.5,
                             tickcolor="black", showgrid=False))
    else:
        xa = dict(common, range=[-3.41, 3.41], tickvals=bot_x_ticks, ticklen=8,
                  minor=dict(dtick=1, tick0=0, ticks="inside", ticklen=8, tickwidth=1.5,
                             tickcolor="black", showgrid=False))
        ya = dict(common, range=[-1.84, 1.84], tickvals=bot_y_ticks, ticklen=7,
                  minor=dict(dtick=0.2, tick0=0, ticks="inside", ticklen=4, tickwidth=1.5,
                             tickcolor="black", showgrid=False))
    xa.update(domain=[x0 / W, x1 / W], anchor=f"y{i}", ticklabelstandoff=2)
    ya.update(domain=[1 - y1 / H, 1 - y0 / H], anchor=f"x{i}", ticklabelstandoff=4)
    layout["xaxis" if i == 1 else f"xaxis{i}"] = xa
    layout["yaxis" if i == 1 else f"yaxis{i}"] = ya

annotations = []
# panel titles
for c, t in enumerate(panel_titles):
    xc = (col_px[c][0] + col_px[c][1]) / 2
    annotations.append(dict(text=t, x=xc / W, y=1 - 27 / H, xref="paper", yref="paper",
                            xanchor="center", yanchor="middle", showarrow=False,
                            font=dict(family=FONT, size=TITLE_SIZE, color="black")))
# x axis titles
for c in range(3):
    xc = (col_px[c][0] + col_px[c][1]) / 2
    for ypx, t in ((400, top_x_title), (771, bot_x_title)):
        annotations.append(dict(text=t, x=xc / W, y=1 - ypx / H, xref="paper", yref="paper",
                                xanchor="center", yanchor="middle", showarrow=False,
                                font=dict(family=FONT, size=TITLE_SIZE, color="black")))
# y axis titles (left column)
for r, t in ((0, top_y_title), (1, bot_y_title)):
    yc = (row_px[r][0] + row_px[r][1]) / 2
    annotations.append(dict(text=t, x=80 / W, y=1 - yc / H, xref="paper", yref="paper",
                            xanchor="center", yanchor="middle", textangle=-90, showarrow=False,
                            font=dict(family=FONT, size=TITLE_SIZE, color="black")))
# side label
annotations.append(dict(text=side_label, x=24 / W, y=1 - 401 / H, xref="paper", yref="paper",
                        xanchor="center", yanchor="middle", textangle=-90, showarrow=False,
                        font=dict(family=FONT, size=33, color="black")))
layout["annotations"] = annotations

fig.update_layout(**layout)
fig.write_html("out.html", include_plotlyjs=True, config={"displayModeBar": False})
